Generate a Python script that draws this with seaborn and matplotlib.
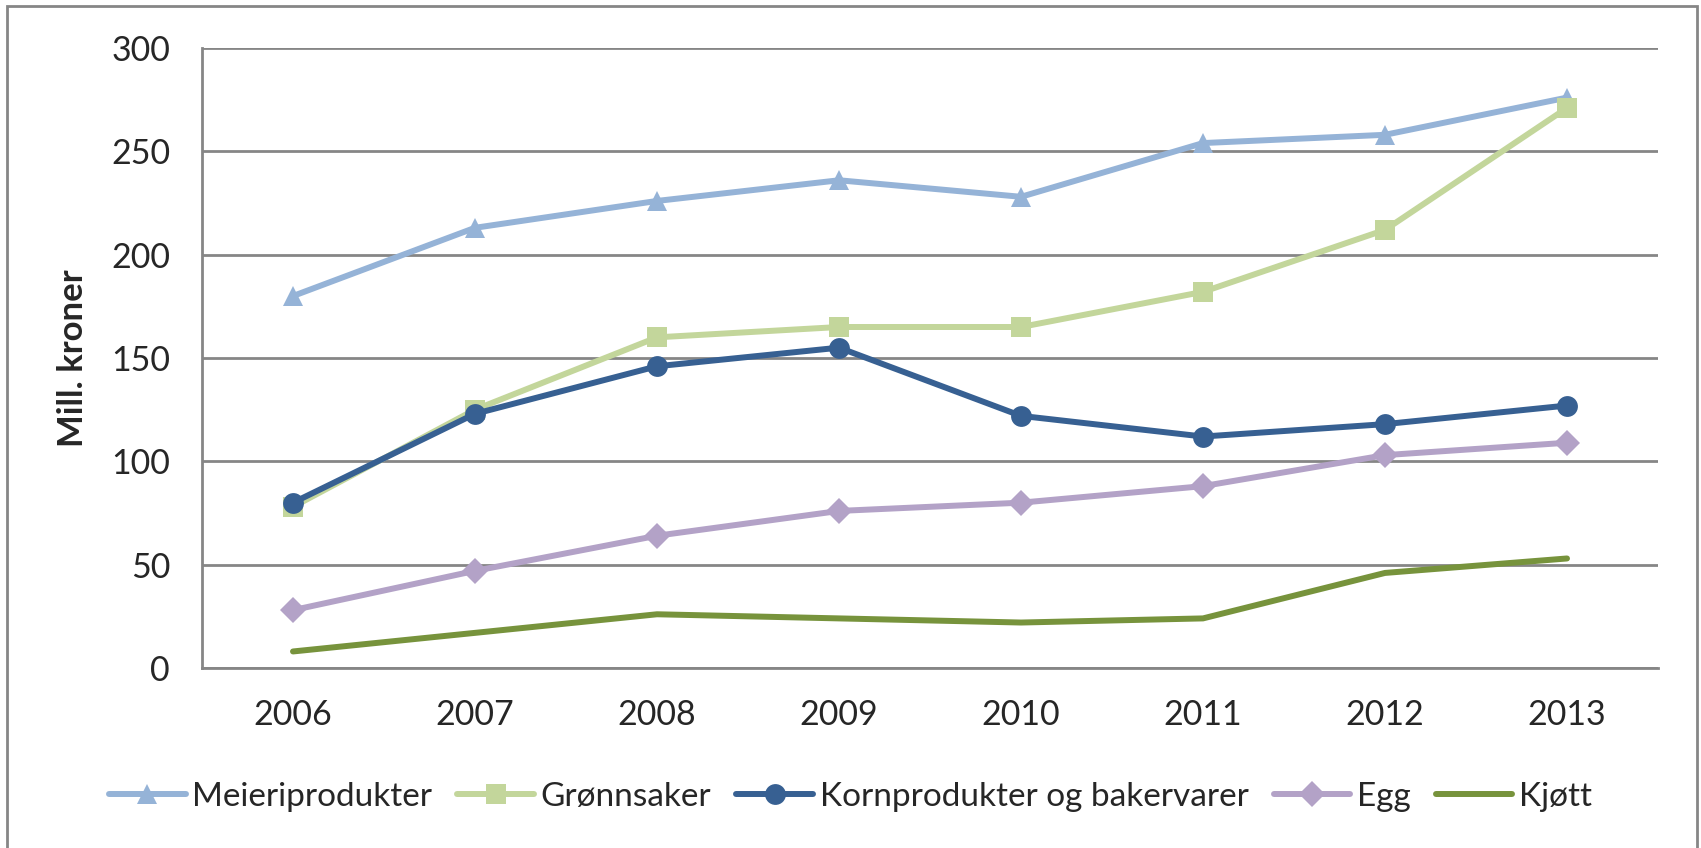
import pandas as pd
import seaborn as sns
import matplotlib.pyplot as plt
from matplotlib.patches import Rectangle

years = ['2006', '2007', '2008', '2009', '2010', '2011', '2012', '2013']
meieri = [180, 213, 226, 236, 228, 254, 258, 276]
gronnsaker = [78, 125, 160, 165, 165, 182, 212, 271]
korn = [80, 123, 146, 155, 122, 112, 118, 127]
egg = [28, 47, 64, 76, 80, 88, 103, 109]
kjott = [8, 17, 26, 24, 22, 24, 46, 53]

series = [
    ('Meieriprodukter', meieri, '#95B3D7', '^'),
    ('Grønnsaker', gronnsaker, '#C3D69B', 's'),
    ('Kornprodukter og bakervarer', korn, '#376092', 'o'),
    ('Egg', egg, '#B3A2C7', 'D'),
    ('Kjøtt', kjott, '#77933C', None),
]

sns.set_style('white')
plt.rcParams['font.family'] = ['Lato', 'DejaVu Sans']

fig = plt.figure(figsize=(17.01, 8.48), dpi=100)
ax = fig.add_axes([202 / 1701, 1 - 668 / 848, (1658 - 202) / 1701, (668 - 48) / 848])

x = list(range(len(years)))
for name, vals, color, marker in series:
    df = pd.DataFrame({'x': x, 'y': vals})
    ms = 13 if marker == 'D' else 15
    sns.lineplot(data=df, x='x', y='y', ax=ax, color=color, linewidth=4.3,
                 marker=marker, markersize=ms, markeredgewidth=0, label=name,
                 solid_capstyle='round')

ax.set_xlim(-0.5, len(years) - 0.5)
ax.set_ylim(0, 300)
ax.set_yticks(range(0, 301, 50))
ax.set_xticks([i - 0.5 for i in range(len(years) + 1)], minor=False)
ax.set_xticklabels([])
ax.set_xticks(x, minor=True)
ax.set_xticklabels(years, minor=True, fontsize=24.5)
ax.tick_params(axis='x', which='major', direction='out', length=9, width=2, color='#868686')
ax.tick_params(axis='x', which='minor', length=0, pad=22)
ax.tick_params(axis='y', direction='out', length=9, width=2, color='#868686', labelsize=24.5, pad=14)

ax.grid(axis='y', color='#868686', linewidth=2)
ax.set_axisbelow(True)
for s in ['top', 'right']:
    ax.spines[s].set_visible(False)
for s in ['left', 'bottom']:
    ax.spines[s].set_color('#868686')
    ax.spines[s].set_linewidth(2)

ax.set_xlabel('')
ax.set_ylabel('Mill. kroner', fontsize=25, fontweight='bold', labelpad=16)

ax.legend(loc='center', bbox_to_anchor=(0.5, (848 - 797) / 848), bbox_transform=fig.transFigure,
          ncol=5, frameon=False, fontsize=24, handlelength=2.3, handletextpad=0.2,
          columnspacing=0.75)

fig.patches.append(Rectangle((7 / 1701, -0.1), (1697 - 7) / 1701, 1.1 - 6 / 848,
                             transform=fig.transFigure, fill=False,
                             edgecolor='#868686', linewidth=2))

fig.savefig('out.png', dpi=100)
